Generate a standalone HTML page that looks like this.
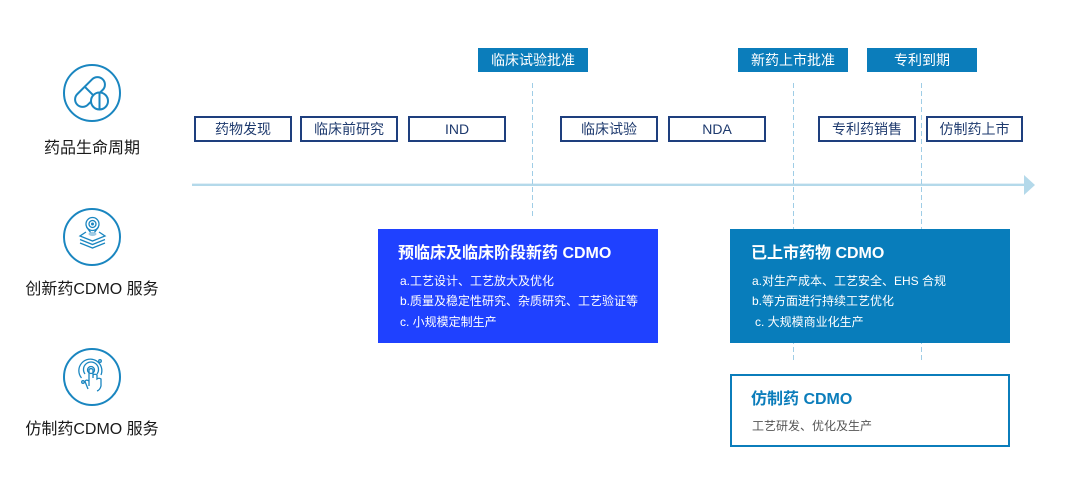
<!DOCTYPE html>
<html>
<head>
<meta charset="utf-8">
<style>
  html,body{margin:0;padding:0;background:#fff;}
  body{width:1080px;height:500px;position:relative;overflow:hidden;
    font-family:"Liberation Sans","Noto Sans CJK SC",sans-serif;}
  .abs{position:absolute;}
  .lbl{position:absolute;width:184px;left:0;text-align:center;font-size:16px;color:#1a1a1a;line-height:20px;}
  .tag{position:absolute;top:48px;height:24px;background:#0b7dbb;color:#fff;font-size:14px;line-height:24px;text-align:center;}
  .box{position:absolute;top:116px;height:22px;border:2px solid #1e3f7e;color:#1e3a6e;font-size:14px;line-height:22px;text-align:center;box-sizing:content-box;}
  .card{position:absolute;color:#fff;}
  .card .t{position:absolute;font-size:16px;font-weight:bold;line-height:20px;white-space:nowrap;}
  .card .l{position:absolute;font-size:12px;line-height:16px;white-space:nowrap;}
</style>
</head>
<body>
<svg class="abs" style="left:0;top:0" width="1080" height="500" viewBox="0 0 1080 500">
  <!-- timeline -->
  <line x1="192" y1="184.8" x2="1026" y2="184.8" stroke="#b4d9ea" stroke-width="2.4"/>
  <polygon points="1024,175 1035,185 1024,195" fill="#b4d9ea"/>
  <!-- dashed verticals -->
  <line x1="532.5" y1="83" x2="532.5" y2="219" stroke="#9fcde6" stroke-width="1" stroke-dasharray="5,3"/>
  <line x1="793.5" y1="83" x2="793.5" y2="363" stroke="#9fcde6" stroke-width="1" stroke-dasharray="5,3"/>
  <line x1="921.5" y1="83" x2="921.5" y2="363" stroke="#9fcde6" stroke-width="1" stroke-dasharray="5,3"/>

  <!-- icon 1: pills -->
  <g fill="none" stroke="#1a86c0" stroke-width="2">
    <circle cx="92" cy="93" r="28"/>
    <g transform="rotate(-45 90 92)">
      <rect x="72" y="84.5" width="36" height="15" rx="7.5"/>
      <line x1="90" y1="84.5" x2="90" y2="99.5"/>
    </g>
    <circle cx="99.5" cy="101" r="8.5" fill="#fff"/>
    <line x1="99.5" y1="93.5" x2="99.5" y2="108.5"/>
  </g>

  <!-- icon 2: target + layers -->
  <g fill="none" stroke="#1a86c0" stroke-width="2">
    <circle cx="92" cy="237" r="28"/>
  </g>
  <g fill="none" stroke="#1a86c0" stroke-width="1.3">
    <circle cx="92.5" cy="224" r="6.5"/>
    <circle cx="92.5" cy="224" r="3.5"/>
    <path d="M86.5 227 L92.5 235 L98.5 227"/>
    <path d="M86 232 L80 236 L92.5 241 L105 236 L99 232"/>
    <path d="M80 239.5 L92.5 244.5 L105 239.5"/>
    <path d="M80 243 L92.5 248 L105 243"/>
  </g>
  <circle cx="92.5" cy="224" r="1.5" fill="#1a86c0"/>
  <ellipse cx="92.5" cy="234" rx="4" ry="2" fill="#9fcbe4"/>

  <!-- icon 3: hand touch -->
  <g fill="none" stroke="#1a86c0" stroke-width="2">
    <circle cx="92" cy="377" r="28"/>
  </g>
  <g fill="none" stroke="#1a86c0" stroke-width="1.3">
    <circle cx="91" cy="370" r="3.5"/>
    <path d="M85 374 A7.5 7.5 0 1 1 97 374"/>
    <path d="M81.5 378 A11.5 11.5 0 1 1 101 375"/>
    <circle cx="100" cy="361" r="1.3"/>
    <circle cx="83" cy="382" r="1.3"/>
    <path d="M89 386 L89 369.5 Q91 367.5 93 369.5 L93 378 L93 375 Q95 373.5 97 375 L97 379 Q99 377.5 101 379 L101 386 Q100 390 97 391"/>
    <path d="M89 381 Q86 379 85 381.5 L88 389"/>
  </g>
</svg>

<!-- left labels -->
<div class="lbl" style="top:139px;">药品生命周期</div>
<div class="lbl" style="top:280px;">创新药CDMO 服务</div>
<div class="lbl" style="top:420px;">仿制药CDMO 服务</div>

<!-- top tags -->
<div class="tag" style="left:478px;width:110px;">临床试验批准</div>
<div class="tag" style="left:738px;width:110px;">新药上市批准</div>
<div class="tag" style="left:867px;width:110px;">专利到期</div>

<!-- stage boxes -->
<div class="box" style="left:194px;width:94px;">药物发现</div>
<div class="box" style="left:300px;width:94px;">临床前研究</div>
<div class="box" style="left:408px;width:94px;">IND</div>
<div class="box" style="left:560px;width:94px;">临床试验</div>
<div class="box" style="left:668px;width:94px;">NDA</div>
<div class="box" style="left:818px;width:94px;">专利药销售</div>
<div class="box" style="left:926px;width:93px;">仿制药上市</div>

<!-- card 1 -->
<div class="card" style="left:378px;top:229px;width:280px;height:114px;background:#1f41ff;">
  <div class="t" style="left:20px;top:15px;">预临床及临床阶段新药 CDMO</div>
  <div class="l" style="left:22px;top:44px;">a.工艺设计、工艺放大及优化</div>
  <div class="l" style="left:22px;top:64px;">b.质量及稳定性研究、杂质研究、工艺验证等</div>
  <div class="l" style="left:22px;top:85px;">c. 小规模定制生产</div>
</div>

<!-- card 2 -->
<div class="card" style="left:730px;top:229px;width:280px;height:114px;background:#087dbb;">
  <div class="t" style="left:21px;top:15px;">已上市药物 CDMO</div>
  <div class="l" style="left:22px;top:44px;">a.对生产成本、工艺安全、EHS 合规</div>
  <div class="l" style="left:22px;top:64px;">b.等方面进行持续工艺优化</div>
  <div class="l" style="left:25px;top:85px;">c. 大规模商业化生产</div>
</div>

<!-- card 3 -->
<div class="card" style="left:730px;top:374px;width:276px;height:69px;border:2px solid #0b7dbb;background:#fff;">
  <div class="t" style="left:19px;top:14px;color:#0b7dbb;">仿制药 CDMO</div>
  <div class="l" style="left:20px;top:42px;color:#555;">工艺研发、优化及生产</div>
</div>
</body>
</html>
